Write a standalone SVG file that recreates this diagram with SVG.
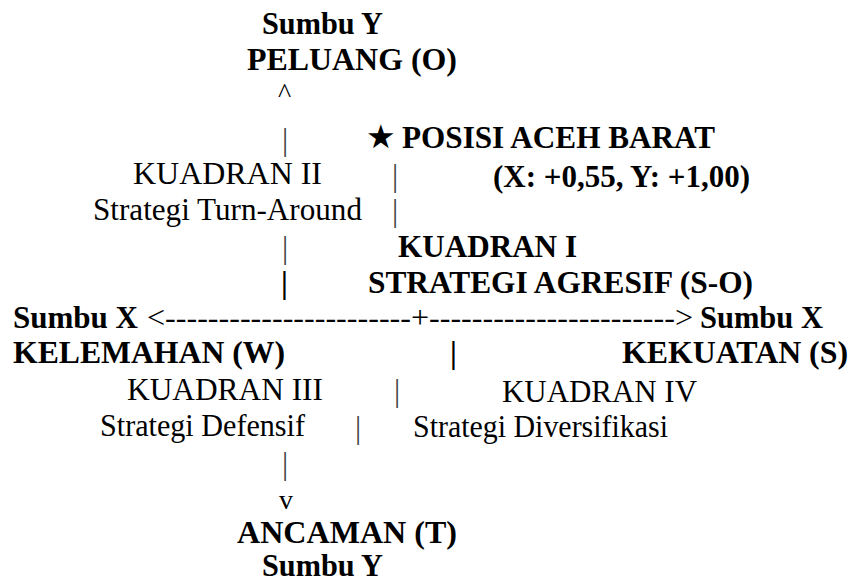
<svg xmlns="http://www.w3.org/2000/svg" width="851" height="583" viewBox="0 0 851 583">
<style>
text{font-family:"Liberation Serif","Times New Roman",serif;font-size:31px;fill:#000}
.b{font-weight:bold}
.bar{fill:#444}
.star{font-family:"DejaVu Sans",sans-serif;font-size:33px}
</style>
<rect width="851" height="583" fill="#fff"/>
<g id="axis-y-top">
<text class="b" x="262" y="34" textLength="121" lengthAdjust="spacingAndGlyphs">Sumbu Y</text>
<text class="b" x="247" y="70" textLength="210" lengthAdjust="spacingAndGlyphs">PELUANG (O)</text>
</g>
<g id="position">
<text class="star" x="366" y="148">★</text>
<text class="b" x="402" y="148" textLength="313" lengthAdjust="spacingAndGlyphs">POSISI ACEH BARAT</text>
<text class="b" x="493" y="187" textLength="257" lengthAdjust="spacingAndGlyphs">(X: +0,55, Y: +1,00)</text>
</g>
<g id="quadrant-2">
<text x="133" y="184" textLength="189" lengthAdjust="spacingAndGlyphs">KUADRAN II</text>
<text x="93" y="220" textLength="269" lengthAdjust="spacingAndGlyphs">Strategi Turn-Around</text>
</g>
<g id="quadrant-1">
<text class="b" x="398" y="257" textLength="179" lengthAdjust="spacingAndGlyphs">KUADRAN I</text>
<text class="b" x="368" y="293" textLength="385" lengthAdjust="spacingAndGlyphs">STRATEGI AGRESIF (S-O)</text>
</g>
<g id="axis-x-left">
<text class="b" x="13" y="328" textLength="125" lengthAdjust="spacingAndGlyphs">Sumbu X</text>
<text class="b" x="13" y="363" textLength="272" lengthAdjust="spacingAndGlyphs">KELEMAHAN (W)</text>
</g>
<g id="axis-x-right">
<text class="b" x="700" y="328" textLength="123" lengthAdjust="spacingAndGlyphs">Sumbu X</text>
<text class="b" x="622" y="363" textLength="226" lengthAdjust="spacingAndGlyphs">KEKUATAN (S)</text>
</g>
<g id="quadrant-3">
<text x="127" y="400" textLength="196" lengthAdjust="spacingAndGlyphs">KUADRAN III</text>
<text x="100" y="436" textLength="205" lengthAdjust="spacingAndGlyphs">Strategi Defensif</text>
</g>
<g id="quadrant-4">
<text x="502" y="402" textLength="195" lengthAdjust="spacingAndGlyphs">KUADRAN IV</text>
<text x="413" y="437" textLength="255" lengthAdjust="spacingAndGlyphs">Strategi Diversifikasi</text>
</g>
<g id="axis-y-bottom">
<text class="b" x="237" y="543" textLength="220" lengthAdjust="spacingAndGlyphs">ANCAMAN (T)</text>
<text class="b" x="262" y="576" textLength="121" lengthAdjust="spacingAndGlyphs">Sumbu Y</text>
</g>
<g id="connectors">
<text x="278" y="102" style="font-size:28px">^</text>
<text class="bar" x="282" y="150">|</text>
<text class="bar" x="392" y="186">|</text>
<text class="bar" x="392" y="221">|</text>
<text class="bar" x="282" y="258">|</text>
<text class="b" x="281" y="293">|</text>
<text x="147" y="328" textLength="546" lengthAdjust="spacingAndGlyphs">&lt;-----------------------+-----------------------&gt;</text>
<text class="b" x="450" y="363">|</text>
<text class="bar" x="394" y="401">|</text>
<text class="bar" x="355" y="438">|</text>
<text class="bar" x="282" y="474">|</text>
<text x="279" y="509" style="font-size:28px">v</text>
</g>
</svg>
